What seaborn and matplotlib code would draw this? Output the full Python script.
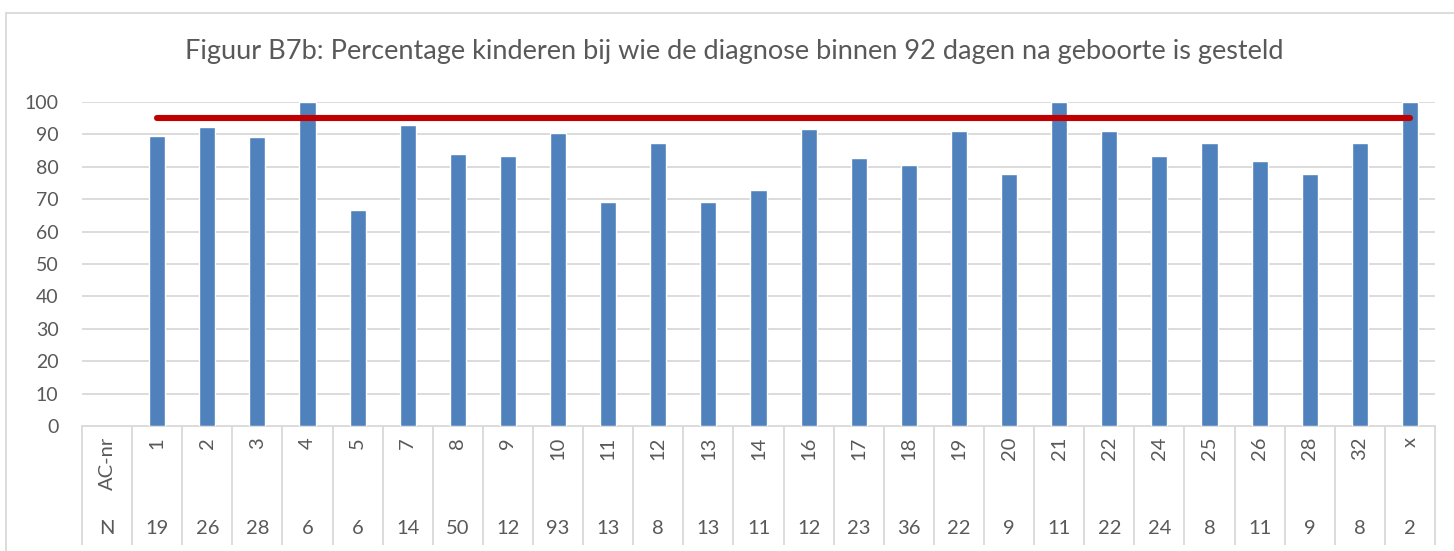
import numpy as np
import pandas as pd
import seaborn as sns
import matplotlib.pyplot as plt
import matplotlib.transforms as mtransforms
from matplotlib.patches import Rectangle

# data
ac_nr = ["1", "2", "3", "4", "5", "7", "8", "9", "10", "11", "12", "13", "14",
         "16", "17", "18", "19", "20", "21", "22", "24", "25", "26", "28", "32", "x"]
n_kids = [19, 26, 28, 6, 6, 14, 50, 12, 93, 13, 8, 13, 11,
          12, 23, 36, 22, 9, 11, 22, 24, 8, 11, 9, 8, 2]
percentage = [89.5, 92.3, 89.3, 100.0, 66.7, 92.9, 84.0, 83.3, 90.3, 69.2, 87.5, 69.2, 72.7,
              91.7, 82.6, 80.6, 90.9, 77.8, 100.0, 90.9, 83.3, 87.5, 81.8, 77.8, 87.5, 100.0]
target = [95] * len(ac_nr)
y_ticks = list(range(0, 101, 10))

title = "Figuur B7b: Percentage kinderen bij wie de diagnose binnen 92 dagen na geboorte is gesteld"

sns.set_style("white")
plt.rcParams['font.family'] = ['Lato', 'DejaVu Sans']

txt = "#595959"
grid = "#d9d9d9"

df = pd.DataFrame({"ac": ac_nr, "pct": percentage})

W, H = 1454, 551
fig = plt.figure(figsize=(W / 100, H / 100), dpi=100)
ax = fig.add_axes([82 / W, 1 - 426 / H, (1435 - 82) / W, (426 - 102) / H])

sns.barplot(data=df, x="ac", y="pct", order=ac_nr, color="#4f81bd",
            width=0.32, saturation=1, ax=ax, zorder=3)
xs = np.arange(len(ac_nr))
ax.plot(xs, target, color="#c00000", lw=4.4, solid_capstyle="round", zorder=4)

ax.set_xlim(-1.5, len(ac_nr) - 0.5)
ax.set_ylim(0, 100)
ax.set_yticks(y_ticks)
ax.set_yticklabels([str(v) for v in y_ticks], color=txt, fontsize=14)
ax.tick_params(axis="y", length=0, pad=17)
ax.set_xticks([])
ax.set_xlabel("")
ax.set_ylabel("")
for v in y_ticks[1:]:
    ax.axhline(v, color=grid, lw=1.3, zorder=1)
for s in ["top", "right", "left"]:
    ax.spines[s].set_visible(False)
ax.spines["bottom"].set_color(grid)
ax.spines["bottom"].set_linewidth(1.3)

# data table under the axis
tr = mtransforms.blended_transform_factory(ax.transData, ax.transAxes)
h_ax = 426 - 102
bottom_frac = (426 - 545) / h_ax
edges = np.arange(len(ac_nr) + 2) - 1.5
ax.vlines(edges, bottom_frac, 0, transform=tr, color=grid, lw=1.3, clip_on=False)

lab_y = (426 - 437) / h_ax
n_y = (426 - 528) / h_ax
ax.text(-1, lab_y, "AC-nr", transform=tr, rotation=90, ha="center", va="top",
        color=txt, fontsize=14.5)
ax.text(-1, n_y, "N", transform=tr, ha="center", va="center", color=txt, fontsize=14.5)
for i, (a, n) in enumerate(zip(ac_nr, n_kids)):
    ax.text(i, lab_y, a, transform=tr, rotation=90, ha="center", va="top",
            color=txt, fontsize=14.5)
    ax.text(i, n_y, str(n), transform=tr, ha="center", va="center",
            color=txt, fontsize=14.5)

fig.text(734 / W, 1 - 52 / H, title, ha="center", va="center", color=txt, fontsize=19.5)

fig.patches.append(Rectangle((6 / W, -0.1), 1.2, 1 - 13 / H + 0.1, transform=fig.transFigure,
                             fill=False, edgecolor=grid, lw=1.3))

fig.savefig("out.png", dpi=100)
